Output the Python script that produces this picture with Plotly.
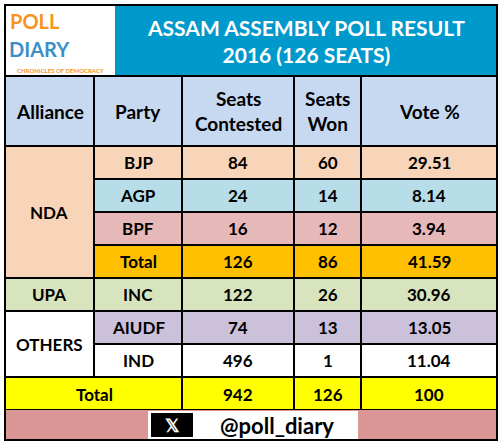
import plotly.graph_objects as go

alliances = ["NDA", "UPA", "OTHERS"]
parties = ["BJP", "AGP", "BPF", "Total", "INC", "AIUDF", "IND"]
contested = [84, 24, 16, 126, 122, 74, 496]
won = [60, 14, 12, 86, 26, 13, 1]
vote = ["29.51", "8.14", "3.94", "41.59", "30.96", "13.05", "11.04"]
total_row = ["Total", "942", "126", "100"]
headers = ["Alliance", "Party", "Seats<br>Contested", "Seats<br>Won", "Vote %"]
title = "ASSAM ASSEMBLY POLL RESULT<br>2016 (126 SEATS)"

W, H = 503, 443
cols = [5, 94, 182, 294, 361, 497]
rows = [146, 179, 212, 245, 278, 311, 344, 377]
row_colors = ["#F8D5B8", "#B7DDE8", "#E6B9B8", "#FFC000", "#D7E4BD", "#CCC1DA", "#FFFFFF"]
F = "Lato, Open Sans, Liberation Sans, Arial"

shapes, ann = [], []
def rect(x0, y0, x1, y1, fill, lw=2):
    shapes.append(dict(type="rect", x0=x0, x1=x1, y0=y0, y1=y1, fillcolor=fill,
                       line=dict(color="black", width=lw), layer="below"))
def text(x, y, t, size=17, color="black", bold=True):
    ann.append(dict(x=x, y=y, text=f"<b>{t}</b>" if bold else t, showarrow=False,
                    font=dict(family=F, size=size, color=color)))

# header
rect(5, 5, 115, 75, "white", 0)
rect(115, 5, 497, 75, "#0099CC", 0)
text(306, 41, title, 21, "white")
text(35, 21, "POLL", 20, "#F7941D")
text(39, 49, "DIARY", 20, "#3B8FC8")
text(60, 70, "CHRONICLES OF DEMOCRACY", 6, "#F7941D")
# column headers
for i, h in enumerate(headers):
    rect(cols[i], 76, cols[i+1], 146, "#C6D9F1")
    text((cols[i]+cols[i+1])/2, 111, h, 19)
# body
for r in range(7):
    y0, y1 = rows[r], rows[r+1]
    for c in range(1, 5):
        rect(cols[c], y0, cols[c+1], y1, row_colors[r])
    yc = (y0+y1)/2
    for c, v in enumerate([parties[r], contested[r], won[r], vote[r]]):
        text((cols[c+1]+cols[c+2])/2, yc, v)
rect(cols[0], rows[0], cols[1], rows[4], "#F8D5B8")
rect(cols[0], rows[4], cols[1], rows[5], "#D7E4BD")
rect(cols[0], rows[5], cols[1], rows[7], "#FFFFFF")
text(49, (rows[0]+rows[4])/2, alliances[0])
text(49, (rows[4]+rows[5])/2, alliances[1])
text(49, (rows[5]+rows[7])/2, alliances[2])
# total
rect(cols[0], 377, cols[2], 410, "#FFFF00")
for c in range(2, 5):
    rect(cols[c], 377, cols[c+1], 410, "#FFFF00")
text(94, 394, total_row[0])
for i, c in enumerate(range(2, 5)):
    text((cols[c]+cols[c+1])/2, 394, total_row[i+1])
# footer
rect(5, 410, 497, 440, "#DA9694", 0)
rect(148, 411, 358, 440, "white", 0)
rect(151, 413, 193, 437, "black", 0)
text(172, 425, "𝕏", 18, "white")
text(277, 425, "@poll_diary", 22, "black")
shapes.append(dict(type="rect", x0=5, x1=497, y0=5, y1=440, line=dict(color="black", width=2)))

fig = go.Figure()
fig.update_layout(width=W, height=H, margin=dict(l=0, r=0, t=0, b=0),
                  plot_bgcolor="white", paper_bgcolor="white",
                  xaxis=dict(range=[0, W], visible=False, fixedrange=True),
                  yaxis=dict(range=[H, 0], visible=False, fixedrange=True),
                  shapes=shapes, annotations=ann, showlegend=False)
fig.write_html("out.html", config={"displayModeBar": False})
with open("out.html") as f:
    html = f.read()
html = html.replace("<head>", "<head><style>html,body{margin:0;padding:0;overflow:hidden}</style>", 1)
with open("out.html", "w") as f:
    f.write(html)
